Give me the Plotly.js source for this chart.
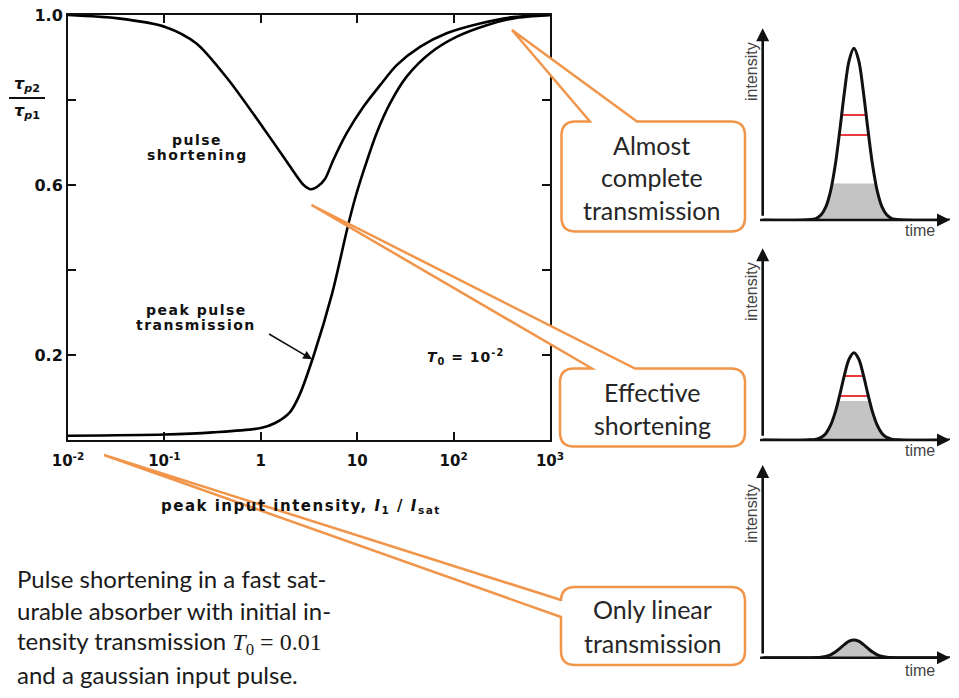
<!DOCTYPE html>
<html><head><meta charset="utf-8">
<script src="https://cdn.plot.ly/plotly-3.0.1.min.js"></script>
<style>html,body{margin:0;padding:0;background:#fff;}#chart{width:959px;height:698px;}</style>
</head><body><div id="chart"></div>
<script>
// ---- main chart data ----
const xTickVals = [0.01, 0.1, 1, 10, 100, 1000];
const xTickText = ['10<sup>-2</sup>', '10<sup>-1</sup>', '1', '10', '10<sup>2</sup>', '10<sup>3</sup>'];
const yTickVals = [0.2, 0.6, 1.0];
const yTickText = ['0.2', '0.6', '1.0'];
const yMinorTicks = [0.4, 0.8];

const shortIntensity = [0.01, 0.0331, 0.102, 0.215, 0.463, 1.04, 1.81, 2.34, 2.78, 3.30, 3.91, 4.63, 5.65, 7.78, 11.6, 17.3, 25.7, 44.8, 84.7, 188, 417, 1000];
const shortRatio     = [1.0, 0.992, 0.972, 0.933, 0.847, 0.737, 0.659, 0.622, 0.600, 0.590, 0.597, 0.614, 0.659, 0.722, 0.784, 0.835, 0.882, 0.925, 0.957, 0.980, 0.995, 1.0];

const transIntensity = [0.01, 0.1, 0.316, 1, 1.41, 2.0, 2.51, 3.55, 5.5, 7.94, 9.55, 11.6, 15.9, 21.9, 32.6, 56.9, 108, 220, 417, 1000];
const transValue     = [0.010, 0.013, 0.018, 0.028, 0.040, 0.065, 0.105, 0.200, 0.345, 0.500, 0.570, 0.632, 0.722, 0.792, 0.855, 0.910, 0.949, 0.976, 0.992, 1.0];

// ---- pulse sketches (time in arbitrary units, intensity normalised to axis height) ----
const pulseTime = [0, 2.37, 2.87, 3.12, 3.37, 3.62, 3.87, 4.12, 4.37, 4.62, 4.87, 5.12, 5.37, 5.62, 5.87, 6.12, 6.37, 6.62, 6.87, 7.37, 10];
const pulseHigh = [0, 0.001, 0.009, 0.027, 0.068, 0.149, 0.284, 0.47, 0.672, 0.834, 0.896, 0.834, 0.672, 0.47, 0.284, 0.149, 0.068, 0.027, 0.009, 0.001, 0];
const pulseMid  = [0, 0.0004, 0.0046, 0.0135, 0.034, 0.076, 0.144, 0.238, 0.341, 0.424, 0.455, 0.424, 0.341, 0.238, 0.144, 0.076, 0.034, 0.0135, 0.0046, 0.0004, 0];
const pulseLow  = [0, 0, 0.001, 0.003, 0.007, 0.015, 0.029, 0.048, 0.069, 0.086, 0.092, 0.086, 0.069, 0.048, 0.029, 0.015, 0.007, 0.003, 0.001, 0, 0];

const fillHighTime = [2.37, 2.87, 3.12, 3.37, 3.62, 3.71, 6.03, 6.12, 6.37, 6.62, 6.87, 7.37];
const fillHighVal  = [0.001, 0.009, 0.027, 0.068, 0.149, 0.191, 0.191, 0.149, 0.068, 0.027, 0.009, 0.001];
const fillMidTime  = [2.37, 2.87, 3.12, 3.37, 3.62, 3.87, 4.03, 5.71, 5.87, 6.12, 6.37, 6.62, 6.87, 7.37];
const fillMidVal   = [0.0004, 0.0046, 0.0135, 0.034, 0.076, 0.144, 0.203, 0.203, 0.144, 0.076, 0.034, 0.0135, 0.0046, 0.0004];

const redHighA = {t: [4.22, 5.52], v: [0.548, 0.548]};
const redHighB = {t: [4.09, 5.65], v: [0.443, 0.443]};
const redMidA  = {t: [4.35, 5.39], v: [0.334, 0.334]};
const redMidB  = {t: [4.10, 5.64], v: [0.230, 0.230]};

const calloutText = [['Almost', 'complete', 'transmission'], ['Effective', 'shortening'], ['Only linear', 'transmission']];
const captionLines = ['Pulse shortening in a fast sat-', 'urable absorber with initial in-',
  'tensity transmission <span style="font-family:\'Liberation Serif\'"><i>T</i><sub>0</sub> = 0.01</span>', 'and a gaussian input pulse.'];

// ---- helpers ----
const W = 959, H = 698;
const px = x => x / W, py = y => 1 - y / H;
const P = (x, y) => px(x).toFixed(5) + ',' + py(y).toFixed(5);
const ORANGE = '#F0954A';
const BOLD = 'DejaVu Sans';
const sp = (s, n) => '<span style="letter-spacing:' + n + 'px">' + s + '</span>';

function boxTop(L, T, R, B, r, a, b, tx, ty) {
  return 'M' + P(a, T) + ' L' + P(tx, ty) + ' L' + P(b, T) + ' L' + P(R - r, T) + ' Q' + P(R, T) + ' ' + P(R, T + r) +
    ' L' + P(R, B - r) + ' Q' + P(R, B) + ' ' + P(R - r, B) + ' L' + P(L + r, B) + ' Q' + P(L, B) + ' ' + P(L, B - r) +
    ' L' + P(L, T + r) + ' Q' + P(L, T) + ' ' + P(L + r, T) + ' Z';
}
function boxLeft(L, T, R, B, r, a, b, tx, ty) {
  return 'M' + P(L + r, T) + ' L' + P(R - r, T) + ' Q' + P(R, T) + ' ' + P(R, T + r) +
    ' L' + P(R, B - r) + ' Q' + P(R, B) + ' ' + P(R - r, B) + ' L' + P(L + r, B) + ' Q' + P(L, B) + ' ' + P(L, B - r) +
    ' L' + P(L, b) + ' L' + P(tx, ty) + ' L' + P(L, a) + ' L' + P(L, T + r) + ' Q' + P(L, T) + ' ' + P(L + r, T) + ' Z';
}

const traces = [
  {x: shortIntensity, y: shortRatio, mode: 'lines', line: {color: '#000', width: 2.6, shape: 'spline', smoothing: 0.8}, xaxis: 'x', yaxis: 'y', hoverinfo: 'skip'},
  {x: transIntensity, y: transValue, mode: 'lines', line: {color: '#000', width: 2.6, shape: 'spline', smoothing: 0.8}, xaxis: 'x', yaxis: 'y', hoverinfo: 'skip'}
];
function pulse(ax, ay, vals, fillT, fillV, reds) {
  traces.push({x: fillT, y: fillV, mode: 'lines', fill: 'tozeroy', fillcolor: '#C4C4C4', line: {width: 0, color: '#C4C4C4'}, xaxis: ax, yaxis: ay, hoverinfo: 'skip'});
  reds.forEach(r => traces.push({x: r.t, y: r.v, mode: 'lines', line: {color: '#E8393F', width: 2}, xaxis: ax, yaxis: ay, hoverinfo: 'skip'}));
  traces.push({x: pulseTime, y: vals, mode: 'lines', line: {color: '#111', width: 3, shape: 'spline', smoothing: 1}, xaxis: ax, yaxis: ay, hoverinfo: 'skip'});
}
pulse('x2', 'y2', pulseHigh, fillHighTime, fillHighVal, [redHighA, redHighB]);
pulse('x3', 'y3', pulseMid, fillMidTime, fillMidVal, [redMidA, redMidB]);
pulse('x4', 'y4', pulseLow, pulseTime, pulseLow, []);

const ann = [];
const txt = (text, x, y, size, extra) => ann.push(Object.assign({text, xref: 'paper', yref: 'paper', x: px(x), y: py(y), showarrow: false,
  xanchor: 'center', yanchor: 'middle', font: {family: BOLD, size, color: '#111', weight: 'bold'}}, extra || {}));

// main plot labels
txt(sp('pulse', 1.5), 197, 140, 14);
txt(sp('shortening', 1.5), 197, 155, 14);
txt(sp('peak pulse', 1.5), 196, 310, 14);
txt(sp('transmission', 1.5), 196, 325, 14);
txt(sp('<i>T</i><sub>0</sub> = 10<sup>-2</sup>', 1), 465, 357, 14);
txt(sp('peak input intensity, <i>I</i><sub>1</sub> / <i>I</i><sub>sat</sub>', 1.5), 301, 506, 15);
txt('<i>τ</i><sub><i>p</i>2</sub>', 27, 85, 16);
txt('<i>τ</i><sub><i>p</i>1</sub>', 27, 111, 16);
ann.push({xref: 'x', yref: 'y', x: Math.log10(3.4), y: 0.19, ax: -46, ay: -27, showarrow: true, arrowhead: 2, arrowsize: 1.1, arrowwidth: 1.6, arrowcolor: '#111', text: ' '});

// callout text
const calloutFont = {family: 'Lato', size: 25, color: '#262626'};
[[651.5, [145, 177, 210]], [652, [392, 425]], [652, [609, 643]]].forEach((c, i) => {
  c[1].forEach((yy, j) => ann.push({text: calloutText[i][j], xref: 'paper', yref: 'paper', x: px(c[0]), y: py(yy), showarrow: false,
    xanchor: 'center', yanchor: 'middle', font: calloutFont}));
});

// caption
[578, 610, 642, 674].forEach((yy, i) => ann.push({text: captionLines[i], xref: 'paper', yref: 'paper', x: px(15), y: py(yy), showarrow: false,
  xanchor: 'left', yanchor: 'middle', font: {family: 'Lato', size: 24, color: '#1a1a1a'}}));

// pulse axes arrows & labels
[['x2', 'y2', 72, 230], ['x3', 'y3', 292, 450], ['x4', 'y4', 514, 670]].forEach(a => {
  ann.push({xref: a[0], yref: a[1], axref: a[0], ayref: a[1], x: 0, y: 1, ax: 0, ay: -0.03, showarrow: true, arrowhead: 2, arrowsize: 1, arrowwidth: 2.6, arrowcolor: '#111', text: ' '});
  ann.push({xref: a[0], yref: a[1], axref: a[0], ayref: a[1], x: 10, y: 0, ax: -0.3, ay: 0, showarrow: true, arrowhead: 2, arrowsize: 1, arrowwidth: 2.6, arrowcolor: '#111', text: ' '});
  ann.push({text: 'intensity', textangle: -90, xref: 'paper', yref: 'paper', x: px(751), y: py(a[2]), showarrow: false, xanchor: 'center', yanchor: 'middle',
    font: {family: 'Liberation Sans', size: 16, color: '#444'}});
  ann.push({text: 'time', xref: 'paper', yref: 'paper', x: px(920), y: py(a[3]), showarrow: false, xanchor: 'center', yanchor: 'middle',
    font: {family: 'Liberation Sans', size: 16, color: '#444'}});
});

const shapes = [
  {type: 'line', xref: 'paper', yref: 'paper', x0: px(9), x1: px(45), y0: py(98), y1: py(98), line: {color: '#111', width: 2}},
  {type: 'path', xref: 'paper', yref: 'paper', layer: 'above', path: boxTop(561.5, 121.5, 745, 231.5, 14, 590, 637, 512, 30), fillcolor: '#fff', line: {color: ORANGE, width: 2.5}},
  {type: 'path', xref: 'paper', yref: 'paper', layer: 'above', path: boxTop(560, 368.5, 745, 446.5, 14, 592, 635, 311.5, 205), fillcolor: '#fff', line: {color: ORANGE, width: 2.5}},
  {type: 'path', xref: 'paper', yref: 'paper', layer: 'above', path: boxLeft(561, 587, 745, 665, 14, 600, 617, 104, 455), fillcolor: '#fff', line: {color: ORANGE, width: 2.5}}
];

const mini = (d0, d1) => ({domain: [py(d1), py(d0)], range: [0, 1], visible: false, fixedrange: true});
const miniX = a => ({domain: [px(762.7), px(950)], range: [0, 10], visible: false, anchor: a, fixedrange: true});

const layout = {
  width: W, height: H, margin: {l: 0, r: 0, t: 0, b: 0}, paper_bgcolor: '#fff', plot_bgcolor: 'rgba(0,0,0,0)', showlegend: false,
  xaxis: {type: 'log', range: [-2, 3], domain: [px(68), px(550)], anchor: 'y', tickvals: xTickVals, ticktext: xTickText,
    ticks: 'inside', ticklen: 8, tickwidth: 2, tickcolor: '#111', showline: true, linewidth: 2, linecolor: '#111', mirror: 'ticks',
    showgrid: false, zeroline: false, ticklabelstandoff: 6, tickfont: {family: BOLD, size: 15, color: '#111', weight: 'bold'}},
  yaxis: {range: [0, 1], domain: [py(440), py(15)], anchor: 'x', tickvals: yTickVals, ticktext: yTickText,
    ticks: 'inside', ticklen: 8, tickwidth: 2, tickcolor: '#111', showline: true, linewidth: 2, linecolor: '#111', mirror: 'ticks',
    minor: {tickvals: yMinorTicks, ticks: 'inside', ticklen: 8, tickwidth: 2, tickcolor: '#111', showgrid: false},
    showgrid: false, zeroline: false, tickfont: {family: BOLD, size: 16, color: '#111', weight: 'bold'}},
  xaxis2: miniX('y2'), yaxis2: Object.assign(mini(28.3, 220), {anchor: 'x2'}),
  xaxis3: miniX('y3'), yaxis3: Object.assign(mini(248.3, 440), {anchor: 'x3'}),
  xaxis4: miniX('y4'), yaxis4: Object.assign(mini(465, 657.7), {anchor: 'x4'}),
  annotations: ann, shapes: shapes
};
Plotly.newPlot('chart', traces, layout, {displayModeBar: false, staticPlot: true});
</script></body></html>
